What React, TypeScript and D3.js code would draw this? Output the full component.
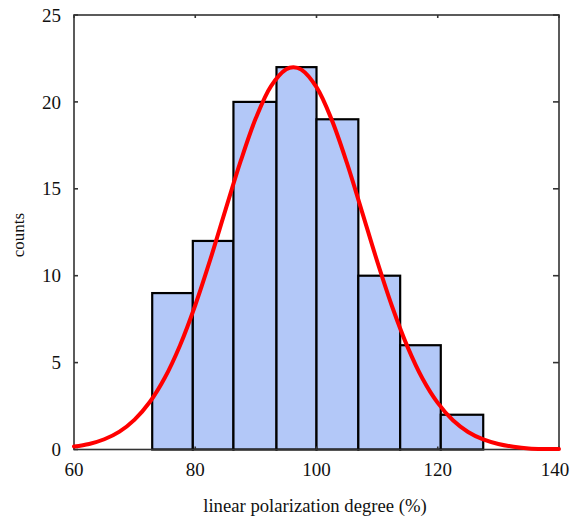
import React, { useEffect, useRef } from "react";
import * as d3 from "d3";

const binEdges = [72.9, 79.6, 86.3, 93.4, 100.0, 106.9, 113.8, 120.5, 127.5];
const counts = [9, 12, 20, 22, 19, 10, 6, 2];
const curveX = [60, 62.5, 65, 67.5, 70, 72.5, 75, 77.5, 80, 82.5, 85, 87.5, 90, 92.5, 95, 96.2, 97.5, 100, 102.5, 105, 107.5, 110, 112.5, 115, 117.5, 120, 122.5, 125, 127.5, 130, 132.5, 135, 137.5, 140];
const curveY = [0.17, 0.32, 0.59, 1.03, 1.72, 2.73, 4.14, 6.0, 8.3, 10.95, 13.8, 16.6, 19.07, 20.91, 21.88, 22.0, 21.86, 20.85, 18.98, 16.5, 13.69, 10.84, 8.2, 5.92, 4.07, 2.68, 1.68, 1.01, 0.58, 0.32, 0.16, 0.06, 0.03, 0.03];
const xTicks = [60, 80, 100, 120, 140];
const yTicks = [0, 5, 10, 15, 20, 25];

const W = 571, H = 518;
const M = { left: 74, top: 15, right: 559, bottom: 449.5 };

export default function App() {
  const ref = useRef<SVGSVGElement>(null);
  useEffect(() => {
    const svg = d3.select(ref.current);
    svg.selectAll("*").remove();
    const x = d3.scaleLinear().domain([60, 140]).range([M.left, M.right]);
    const y = d3.scaleLinear().domain([0, 25]).range([M.bottom, M.top]);
    const font = "'Liberation Serif', 'Times New Roman', serif";

    // bars
    svg.append("g").selectAll("rect").data(counts).join("rect")
      .attr("x", (_, i) => x(binEdges[i]))
      .attr("width", (_, i) => x(binEdges[i + 1]) - x(binEdges[i]))
      .attr("y", d => y(d))
      .attr("height", d => y(0) - y(d))
      .attr("fill", "#b3c8f8")
      .attr("stroke", "#000")
      .attr("stroke-width", 2.2);

    // frame
    svg.append("rect")
      .attr("x", M.left).attr("y", M.top)
      .attr("width", M.right - M.left).attr("height", M.bottom - M.top)
      .attr("fill", "none").attr("stroke", "#333").attr("stroke-width", 1.6);

    // ticks
    const tg = svg.append("g").attr("stroke", "#333").attr("stroke-width", 1.6);
    yTicks.forEach(t => {
      tg.append("line").attr("x1", M.left).attr("x2", M.left + 4).attr("y1", y(t)).attr("y2", y(t));
      tg.append("line").attr("x1", M.right).attr("x2", M.right - 6).attr("y1", y(t)).attr("y2", y(t));
    });
    xTicks.forEach(t => {
      tg.append("line").attr("x1", x(t)).attr("x2", x(t)).attr("y1", M.top).attr("y2", M.top + 3);
      tg.append("line").attr("x1", x(t)).attr("x2", x(t)).attr("y1", M.bottom).attr("y2", M.bottom - 3);
    });

    // curve
    const line = d3.line<number>().x((_, i) => x(curveX[i])).y(d => y(d)).curve(d3.curveCatmullRom);
    svg.append("path").datum(curveY).attr("d", line)
      .attr("fill", "none").attr("stroke", "#ff0000").attr("stroke-width", 4)
      .attr("stroke-linejoin", "round").attr("stroke-linecap", "round");

    // labels
    svg.append("g").selectAll("text").data(yTicks).join("text")
      .attr("x", 61).attr("y", d => y(d)).attr("dy", "0.35em")
      .attr("text-anchor", "end").attr("font-family", font).attr("font-size", 19)
      .attr("fill", "#111").text(d => d);
    svg.append("g").selectAll("text").data(xTicks).join("text")
      .attr("x", d => Math.min(x(d), W - 16)).attr("y", 476)
      .attr("text-anchor", "middle").attr("font-family", font).attr("font-size", 19)
      .attr("fill", "#111").text(d => d);
    svg.append("text").attr("x", 315).attr("y", 512).attr("text-anchor", "middle")
      .attr("font-family", font).attr("font-size", 18.7).attr("fill", "#111")
      .text("linear polarization degree (%)");
    svg.append("text").attr("transform", `translate(24,235) rotate(-90)`).attr("text-anchor", "middle")
      .attr("font-family", font).attr("font-size", 17).attr("fill", "#111")
      .text("counts");
  }, []);
  return (
    <svg ref={ref} width={W} height={H} style={{ position: "absolute", left: 0, top: 0, background: "#fff" }} />
  );
}
